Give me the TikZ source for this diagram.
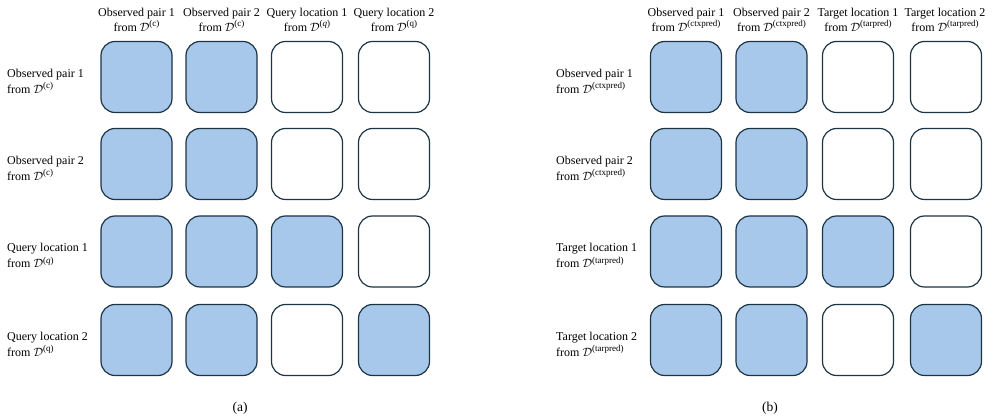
\documentclass[tikz,border=0pt]{standalone}
\usepackage{fontspec}
\setmainfont{Liberation Serif}
% calligraphic D with a raised, text-sized superscript
\newcommand\dsup[1]{$\mathcal{D}$\raisebox{4.6pt}{\fontsize{9}{9}\selectfont(#1)}}
\begin{document}
\begin{tikzpicture}[x=1pt,y=-1pt,
  cell/.style={draw=cellline, line width=1.2pt, rounded corners=14pt,
    minimum width=71pt, minimum height=71pt, inner sep=0pt},
  on/.style={cell, fill=cellfill},
  off/.style={cell, fill=white},
  head/.style={align=center, font=\fontsize{12}{15}\selectfont, inner sep=0pt},
  rowlab/.style={align=left, anchor=west, font=\fontsize{12}{16}\selectfont, inner sep=0pt},
  captext/.style={font=\fontsize{13.5}{15}\selectfont, inner sep=0pt}]
\definecolor{cellfill}{HTML}{A7C8EA}
\definecolor{cellline}{HTML}{1C3444}
\useasboundingbox (0,0) rectangle (1002,419);

% attention grids: 1 = filled (attends), 0 = empty
\foreach \pan/\xa/\xb/\xc/\xd in {L/136.5/221.5/307/394, R/686/771.5/858/946}{
  \foreach \r/\y/\pa/\pb/\pc/\pd in {1/77/1/1/0/0, 2/164/1/1/0/0, 3/251.5/1/1/1/0, 4/340/1/1/0/1}{
    \foreach \c/\x/\v in {1/\xa/\pa, 2/\xb/\pb, 3/\xc/\pc, 4/\xd/\pd}{
      \ifnum\v=1
        \node[on] (\pan-\r-\c) at (\x,\y) {};
      \else
        \node[off] (\pan-\r-\c) at (\x,\y) {};
      \fi
    }
  }
}

% panel (a): column headers
\node[head] (La-h1) at (136.5,19.5) {Observed pair 1\\from \dsup{c}};
\node[head] (La-h2) at (221.5,19.5) {Observed pair 2\\from \dsup{c}};
\node[head] (La-h3) at (307,19.5) {Query location 1\\from \dsup{\textit{q}}};
\node[head] (La-h4) at (394,19.5) {Query location 2\\from \dsup{q}};
% panel (a): row labels
\node[rowlab] (La-r1) at (7,81) {Observed pair 1\\from \dsup{c}};
\node[rowlab] (La-r2) at (7,168) {Observed pair 2\\from \dsup{c}};
\node[rowlab] (La-r3) at (7,255.5) {Query location 1\\from \dsup{\textit{q}}};
\node[rowlab] (La-r4) at (7,344) {Query location 2\\from \dsup{q}};

% panel (b): column headers
\node[head] (Rb-h1) at (686,19.5) {Observed pair 1\\from \dsup{ctxpred}};
\node[head] (Rb-h2) at (771.5,19.5) {Observed pair 2\\from \dsup{ctxpred}};
\node[head] (Rb-h3) at (858,19.5) {Target location 1\\from \dsup{tarpred}};
\node[head] (Rb-h4) at (945,19.5) {Target location 2\\from \dsup{tarpred}};
% panel (b): row labels
\node[rowlab] (Rb-r1) at (556,81) {Observed pair 1\\from \dsup{ctxpred}};
\node[rowlab] (Rb-r2) at (556,168) {Observed pair 2\\from \dsup{ctxpred}};
\node[rowlab] (Rb-r3) at (556,255.5) {Target location 1\\from \dsup{tarpred}};
\node[rowlab] (Rb-r4) at (556,344) {Target location 2\\from \dsup{tarpred}};

% captions
\node[captext] (capa) at (240,408) {(a)};
\node[captext] (capb) at (770,408) {(b)};
\end{tikzpicture}
\end{document}
